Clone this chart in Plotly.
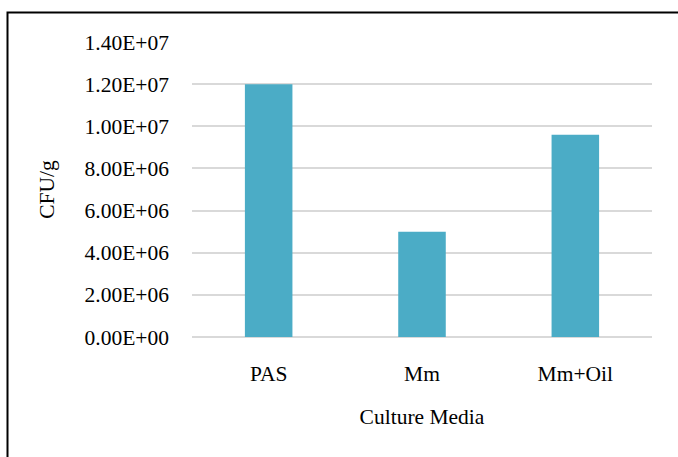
import plotly.graph_objects as go

categories = ["PAS", "Mm", "Mm+Oil"]
cfu_values = [1.2e7, 5.0e6, 9.6e6]
y_ticks = [0, 2e6, 4e6, 6e6, 8e6, 1e7, 1.2e7, 1.4e7]
y_tick_labels = ["0.00E+00", "2.00E+06", "4.00E+06", "6.00E+06",
                 "8.00E+06", "1.00E+07", "1.20E+07", "1.40E+07"]

FONT = "Liberation Serif, Times New Roman, serif"
FS = 21.5
W, H = 678, 457
L, R, T, B = 192, 26, 42, 120
pw, ph = W - L - R, H - T - B

def px_x(p):
    return (p - L) / pw

def px_y(p):
    return (H - B - p) / ph

fig = go.Figure(go.Bar(x=categories, y=cfu_values, marker_color="#4BACC6",
                       marker_line_width=0, width=0.31))

fig.update_layout(
    width=W, height=H,
    margin=dict(l=L, r=R, t=T, b=B),
    paper_bgcolor="white", plot_bgcolor="white",
    font=dict(family=FONT, size=FS, color="#000000"),
    showlegend=False,
    xaxis=dict(title=dict(text="Culture Media", standoff=24, font=dict(size=FS)),
               showgrid=False, showline=False, ticks="", ticklabelstandoff=21),
    yaxis=dict(title=dict(text="CFU/g", standoff=24, font=dict(size=FS)),
               range=[0, 1.4e7], tickvals=y_ticks, ticktext=y_tick_labels,
               showgrid=True, gridcolor="#D9D9D9", gridwidth=1.5,
               zeroline=True, zerolinecolor="#D9D9D9", zerolinewidth=1.5,
               showline=False, ticks="", ticklabelstandoff=22),
    shapes=[dict(type="rect", xref="paper", yref="paper",
                 x0=px_x(7.5), x1=px_x(700), y0=px_y(480), y1=px_y(12.5),
                 line=dict(color="black", width=2), fillcolor="rgba(0,0,0,0)")],
)

fig.write_html("out.html")
